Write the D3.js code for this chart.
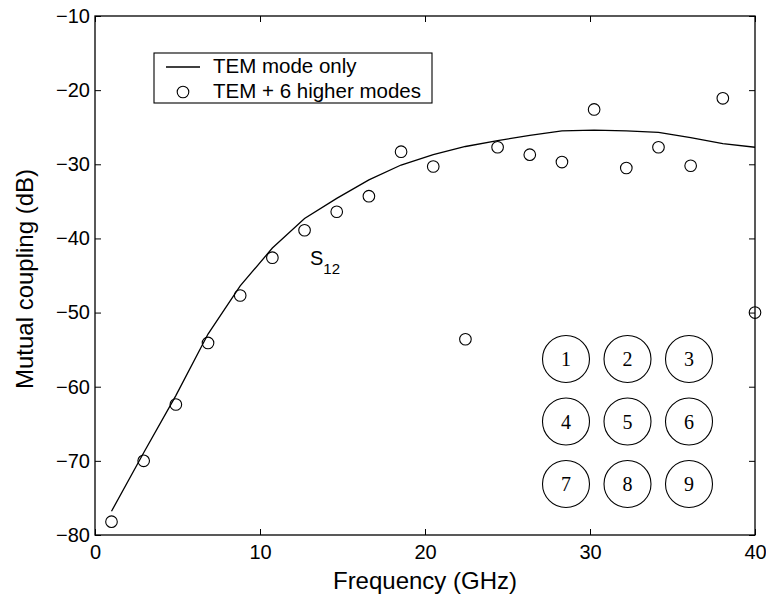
<!DOCTYPE html>
<html><head><meta charset="utf-8">
<script src="https://cdn.jsdelivr.net/npm/d3@7"></script>
<style>body{margin:0;background:#fff}svg{display:block}text{font-family:Arial,"Liberation Sans",Helvetica,sans-serif}</style>
</head><body><svg id="c" width="766" height="596"></svg>
<script>
const freq = [1, 2.95, 4.9, 6.85, 8.8, 10.75, 12.7, 14.65, 16.6, 18.55, 20.5, 22.45, 24.4, 26.35, 28.3, 30.25, 32.2, 34.15, 36.1, 38.05, 40];
const temOnly = [-76.8, -68.9, -61.2, -52.9, -46.4, -41.3, -37.3, -34.6, -32.1, -30.1, -28.7, -27.6, -26.8, -26.1, -25.5, -25.4, -25.5, -25.7, -26.4, -27.2, -27.7];
const temHigher = [-78.2, -70.0, -62.4, -54.1, -47.7, -42.6, -38.9, -36.4, -34.3, -28.3, -30.3, -53.6, -27.7, -28.7, -29.7, -22.6, -30.5, -27.7, -30.2, -21.1, -50.0];
const xTicks = [0, 10, 20, 30, 40];
const yTicks = [-80, -70, -60, -50, -40, -30, -20, -10];
const legendLabels = ["TEM mode only", "TEM + 6 higher modes"];
const portLabels = ["1","2","3","4","5","6","7","8","9"];

const svg = d3.select("#c");
const L = 95, R = 755, T = 16, B = 535;
const x = d3.scaleLinear().domain([0, 40]).range([L, R]);
const y = d3.scaleLinear().domain([-80, -10]).range([B, T]);
const fmt = d => d < 0 ? "\u2212" + Math.abs(d) : String(d);

// frame
svg.append("rect").attr("x", L).attr("y", T).attr("width", R - L).attr("height", B - T)
  .attr("fill", "none").attr("stroke", "#000").attr("stroke-width", 1.3);

// axes with inward ticks
const ax = (g, a) => { g.call(a); g.select(".domain").remove(); g.selectAll("line").attr("stroke", "#000"); };
svg.append("g").attr("transform", `translate(0,${B})`)
  .call(g => ax(g, d3.axisBottom(x).tickValues(xTicks).tickSizeInner(-6).tickPadding(10).tickFormat(fmt)))
  .selectAll("text").attr("font-size", 20).attr("fill", "#000");
svg.append("g").attr("transform", `translate(0,${T})`)
  .call(g => ax(g, d3.axisTop(x).tickValues(xTicks).tickSizeInner(-6).tickFormat("")));
svg.append("g").attr("transform", `translate(${L},0)`)
  .call(g => ax(g, d3.axisLeft(y).tickValues(yTicks).tickSizeInner(-6).tickPadding(5).tickFormat(fmt)))
  .selectAll("text").attr("font-size", 20).attr("fill", "#000");
svg.append("g").attr("transform", `translate(${R},0)`)
  .call(g => ax(g, d3.axisRight(y).tickValues(yTicks).tickSizeInner(-6).tickFormat("")));

// axis titles
svg.append("text").attr("x", (L + R) / 2).attr("y", 589).attr("text-anchor", "middle")
  .attr("font-size", 24).text("Frequency (GHz)");
svg.append("text").attr("transform", `translate(33,279) rotate(-90)`).attr("text-anchor", "middle")
  .attr("font-size", 24).text("Mutual coupling (dB)");

// line
const data = freq.map((f, i) => ({f, a: temOnly[i], b: temHigher[i]}));
svg.append("path").datum(data)
  .attr("d", d3.line().x(d => x(d.f)).y(d => y(d.a)))
  .attr("fill", "none").attr("stroke", "#000").attr("stroke-width", 1.3);
// circles
svg.append("g").selectAll("circle").data(data).join("circle")
  .attr("cx", d => x(d.f)).attr("cy", d => y(d.b)).attr("r", 5.8)
  .attr("fill", "none").attr("stroke", "#000").attr("stroke-width", 1.1);

// S12 label
const s = svg.append("text").attr("x", 310).attr("y", 265).attr("font-size", 20).text("S");
s.append("tspan").attr("dy", 9).attr("font-size", 15).text("12");

// legend
const lg = svg.append("g");
lg.append("rect").attr("x", 154).attr("y", 53).attr("width", 278).attr("height", 50)
  .attr("fill", "#fff").attr("stroke", "#000").attr("stroke-width", 1.1);
lg.append("line").attr("x1", 166).attr("x2", 200).attr("y1", 67).attr("y2", 67).attr("stroke", "#000").attr("stroke-width", 1.3);
lg.append("circle").attr("cx", 183).attr("cy", 92).attr("r", 5.8).attr("fill", "none").attr("stroke", "#000").attr("stroke-width", 1.1);
legendLabels.forEach((t, i) => lg.append("text").attr("x", 213).attr("y", 73 + i * 25).attr("font-size", 20.5).text(t));

// inset array of ports
const gx = d3.scaleLinear().domain([0, 2]).range([566, 689]);
const gy = d3.scaleLinear().domain([0, 2]).range([359, 484]);
const ports = svg.append("g").selectAll("g").data(portLabels).join("g")
  .attr("transform", (d, i) => `translate(${gx(i % 3)},${gy(Math.floor(i / 3))})`);
ports.append("circle").attr("r", 23.5).attr("fill", "none").attr("stroke", "#000").attr("stroke-width", 1.1);
ports.append("text").attr("text-anchor", "middle").attr("dy", "0.35em")
  .style("font-family", "'Liberation Serif','Times New Roman',serif").attr("font-size", 20).text(d => d);
</script></body></html>
